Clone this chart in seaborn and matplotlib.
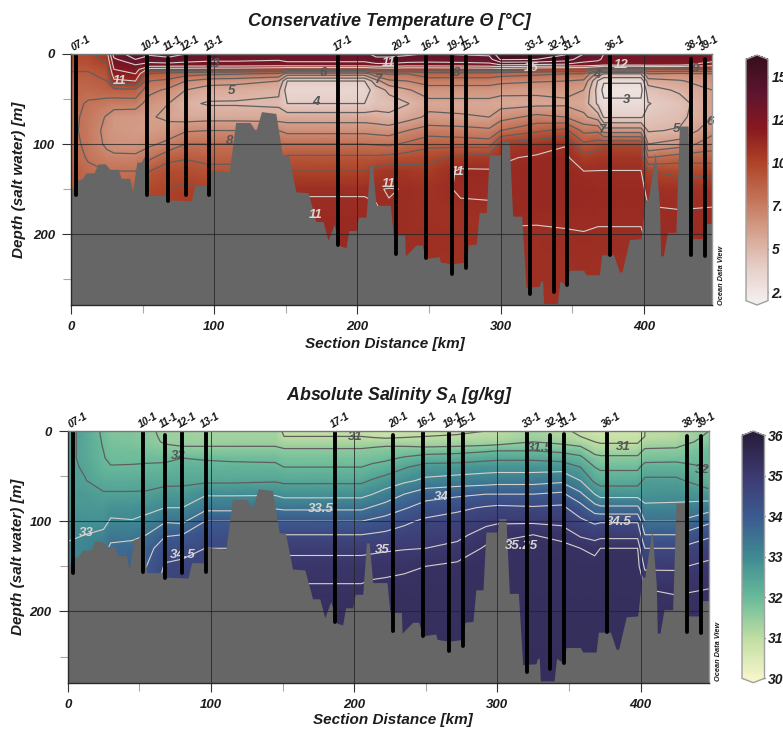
import numpy as np
import pandas as pd
import matplotlib
matplotlib.use("Agg")
import matplotlib.pyplot as plt
import seaborn as sns

# station names, section distance (km), top and bottom of each cast (m)
station_names = ['07-1', '10-1', '11-1', '12-1', '13-1', '17-1', '20-1', '16-1',
                 '19-1', '15-1', '33-1', '32-1', '31-1', '36-1', '38-1', '39-1']
station_km = [3.7, 52.8, 67.7, 80, 96.3, 186.7, 227.2, 247.9,
              266, 275.8, 320.7, 337, 346.3, 376.3, 432.7, 442.5]
station_top = [0, 0, 4, 0, 0, 0, 4, 0, 2, 2, 0, 4, 3, 0, 6, 6]
station_bottom = [157, 156, 163, 157, 156, 212, 222, 227,
                  244, 238, 267, 264, 257, 223, 223, 224]

# sea floor
floor_km = [0, 4.4, 7.4, 10.5, 16, 19, 24, 27, 33, 35, 41, 43, 46, 49, 51, 53, 55, 65.6, 69, 84,
            86.5, 96, 97.4, 110.5, 115, 125, 129, 133, 143, 147.7, 152, 157, 165.6, 171, 176, 179.5,
            183.7, 188, 192, 194, 199, 200.7, 206, 208.6, 210.5, 213, 223, 225, 233, 233.5, 241, 245,
            248, 257, 258, 266, 276, 277.4, 283, 285, 290, 292, 300, 301, 306, 308.4, 314.7, 317.7,
            327, 328, 329.3, 330, 339.6, 341.4, 346, 348, 358, 359.6, 369, 370.5, 379, 383, 384.7,
            390, 398, 401, 403, 408, 411, 411.7, 413.6, 416.4, 422.4, 424.8, 431, 431.7, 441, 443.4, 447.6]
floor_depth = [151, 140, 139, 132, 132, 122, 122, 128, 128, 138, 138, 153, 120, 120, 114, 114, 157, 157, 162, 163,
               146, 146, 129, 131, 76, 76, 86, 64, 66, 113, 113, 153, 154, 186, 186, 207,
               189, 213, 215, 196, 196, 181, 181, 124, 124, 168, 168, 201, 201, 224, 212, 212,
               227, 225, 231, 233, 231, 212, 211, 176, 176, 112, 112, 97, 97, 180, 180, 259,
               258, 252, 252, 277, 277, 252, 257, 240, 240, 245, 245, 223, 223, 242, 242,
               206, 205, 162, 162, 110, 170, 224, 224, 198, 198, 80, 80, 205, 205, 188, 188]

# field sampling
grid_km = [0, 12, 25, 30, 45, 55, 68, 80, 96, 115, 145, 151, 205, 213, 222, 235, 250, 272,
           292, 300, 325, 345, 358, 368, 372, 398, 403, 425, 447.6]
grid_depth = [0, 6, 12, 17, 22, 30, 40, 55, 70, 85, 100, 115, 130, 150, 175, 200, 280]

# conservative temperature, one row per grid_km
theta = [
    [9.5, 9.4, 9.2, 9.1, 8.9, 8.6, 8.4, 8.3, 8.3, 8.3, 8.4, 8.5, 8.8, 9.0, 9.3, 9.5, 9.5],
    [9.7, 9.6, 9.4, 9.1, 8.9, 8.6, 8.3, 7.9, 7.7, 7.6, 7.7, 7.9, 8.2, 8.6, 9.0, 9.4, 9.5],
    [10.6, 10.3, 9.9, 9.6, 9.3, 9.0, 8.6, 7.6, 6.9, 6.7, 6.8, 7.3, 8.0, 8.6, 9.0, 9.4, 9.5],
    [13.5, 12.8, 12.4, 12.0, 11.6, 10.8, 8.7, 7.5, 6.4, 6.4, 6.6, 7.2, 8.0, 8.6, 9.0, 9.4, 9.5],
    [14.5, 14.0, 13.0, 12.5, 12.0, 11.0, 8.8, 7.5, 6.3, 6.2, 6.5, 7.2, 8.0, 8.8, 9.2, 9.5, 9.6],
    [14.2, 13.4, 12.7, 10.6, 8.9, 8.0, 7.3, 6.5, 6.1, 6.2, 6.8, 7.8, 9.0, 9.8, 10.0, 10.2, 10.2],
    [14.6, 13.6, 12.7, 10.5, 8.6, 7.8, 6.8, 6.0, 5.8, 6.4, 7.3, 8.7, 9.5, 10.0, 10.3, 10.4, 10.4],
    [14.0, 13.4, 12.6, 10.5, 8.4, 7.0, 6.0, 5.2, 5.5, 6.9, 8.0, 8.9, 9.6, 10.2, 10.4, 10.5, 10.5],
    [13.5, 13.2, 12.6, 10.4, 8.2, 6.5, 5.5, 4.9, 5.6, 7.0, 8.0, 8.7, 9.3, 10.0, 10.4, 10.5, 10.5],
    [13.4, 13.2, 12.6, 10.4, 8.1, 6.4, 5.4, 4.9, 5.6, 7.0, 8.0, 8.7, 9.3, 10.0, 10.4, 10.5, 10.5],
    [13.4, 13.1, 12.5, 10.2, 7.8, 6.0, 5.2, 4.8, 5.5, 7.0, 8.0, 9.0, 9.8, 10.5, 10.9, 10.95, 10.95],
    [13.6, 13.3, 12.6, 10.0, 6.5, 4.0, 3.5, 4.0, 5.5, 6.7, 8.0, 9.2, 10.0, 10.95, 11.1, 11.15, 11.2],
    [13.6, 13.3, 12.6, 10.0, 6.5, 4.0, 3.5, 4.0, 5.5, 6.7, 8.0, 9.2, 10.0, 10.95, 11.1, 11.15, 11.2],
    [14.5, 13.6, 12.8, 10.3, 7.8, 5.6, 4.5, 4.5, 5.4, 6.6, 7.9, 9.2, 10.4, 10.97, 11.02, 11.02, 11.02],
    [14.5, 13.6, 12.8, 10.4, 8.1, 6.8, 5.2, 4.6, 5.2, 6.5, 7.8, 9.3, 10.6, 11.02, 10.97, 10.97, 10.97],
    [14.2, 13.5, 12.6, 10.2, 8.0, 7.0, 5.9, 4.95, 5.6, 7.0, 8.2, 9.5, 10.5, 10.98, 10.95, 10.95, 10.95],
    [13.9, 13.4, 12.6, 10.2, 8.6, 7.5, 6.5, 5.7, 6.2, 7.5, 8.7, 9.7, 10.3, 10.7, 10.85, 10.9, 10.9],
    [14.1, 13.5, 12.6, 10.3, 8.6, 7.5, 6.5, 5.7, 6.1, 7.4, 8.6, 10.3, 11.15, 11.1, 10.85, 10.85, 10.85],
    [14.2, 13.6, 12.7, 10.4, 8.6, 7.5, 6.5, 5.7, 6.0, 7.2, 8.5, 10.4, 11.1, 11.1, 10.9, 10.9, 10.9],
    [15.8, 15.1, 13.0, 10.5, 8.4, 7.3, 6.3, 5.6, 6.6, 8.0, 10.3, 10.9, 11.1, 11.15, 11.1, 10.95, 10.9],
    [15.6, 15.0, 12.9, 10.2, 8.2, 7.1, 6.2, 5.7, 7.3, 8.8, 10.6, 11.1, 11.2, 11.2, 11.15, 10.9, 10.85],
    [15.1, 14.5, 12.8, 10.0, 8.0, 7.0, 6.3, 5.8, 7.0, 9.3, 10.95, 11.2, 11.2, 11.2, 11.15, 10.95, 10.85],
    [14.0, 13.4, 12.6, 10.0, 8.0, 6.8, 6.0, 5.6, 6.2, 7.7, 9.2, 10.3, 11.0, 11.2, 11.15, 10.98, 10.85],
    [13.5, 13.2, 12.4, 9.0, 5.5, 3.9, 3.6, 3.8, 5.5, 7.8, 9.5, 10.5, 11.02, 11.15, 11.1, 10.95, 10.85],
    [13.0, 12.8, 12.2, 8.5, 5.0, 3.1, 2.7, 3.2, 3.9, 6.5, 9.8, 10.6, 11.02, 11.15, 11.1, 10.95, 10.85],
    [13.0, 12.8, 12.2, 8.5, 5.0, 3.1, 2.7, 3.2, 3.9, 6.5, 9.8, 10.6, 11.02, 11.15, 11.1, 10.95, 10.85],
    [13.0, 12.8, 12.3, 9.0, 7.0, 5.5, 4.5, 3.95, 4.3, 4.9, 6.0, 8.0, 10.0, 10.85, 11.05, 11.1, 11.1],
    [13.0, 12.7, 12.2, 9.0, 6.8, 5.9, 5.2, 4.5, 4.7, 5.1, 6.5, 8.5, 9.7, 10.7, 11.03, 11.1, 11.1],
    [12.8, 12.4, 11.5, 9.0, 7.0, 6.5, 6.0, 6.0, 6.0, 6.7, 7.5, 8.5, 9.7, 10.8, 11.05, 11.1, 11.1],
]

# absolute salinity, one row per grid_km
salinity = [
    [32.6, 32.6, 32.6, 32.6, 32.6, 32.6, 32.6, 32.65, 32.7, 32.75, 32.85, 32.95, 33.05, 33.1, 33.1, 33.1, 33.1],
    [32.4, 32.4, 32.4, 32.4, 32.4, 32.4, 32.45, 32.52, 32.65, 32.75, 32.85, 33.0, 33.1, 33.15, 33.2, 33.2, 33.2],
    [31.9, 31.92, 31.95, 31.97, 32.0, 32.02, 32.1, 32.3, 32.55, 32.7, 32.85, 33.1, 33.3, 33.4, 33.5, 33.5, 33.5],
    [31.7, 31.75, 31.8, 31.85, 31.88, 31.93, 32.02, 32.3, 32.55, 32.85, 33.05, 33.35, 33.6, 33.7, 33.75, 33.8, 33.8],
    [31.7, 31.72, 31.75, 31.8, 31.88, 31.93, 32.03, 32.3, 32.55, 32.85, 33.02, 33.35, 33.7, 33.9, 34.0, 34.0, 34.0],
    [31.6, 31.62, 31.65, 31.7, 31.8, 31.93, 32.05, 32.35, 32.55, 32.9, 33.1, 33.5, 33.8, 34.0, 34.2, 34.2, 34.2],
    [31.4, 31.42, 31.45, 31.55, 31.7, 31.9, 32.1, 32.35, 32.7, 33.0, 33.45, 33.95, 34.3, 34.55, 34.7, 34.7, 34.7],
    [31.35, 31.38, 31.42, 31.5, 31.65, 32.0, 32.2, 32.4, 32.65, 33.0, 33.4, 34.0, 34.35, 34.6, 34.8, 34.8, 34.8],
    [31.3, 31.35, 31.4, 31.5, 31.65, 31.95, 32.15, 32.4, 32.95, 33.35, 34.0, 34.3, 34.5, 34.7, 34.9, 34.9, 34.9],
    [31.3, 31.35, 31.4, 31.5, 31.65, 31.9, 32.15, 32.4, 32.95, 33.35, 34.0, 34.3, 34.5, 34.7, 34.9, 34.9, 34.9],
    [31.3, 31.35, 31.4, 31.5, 31.65, 31.9, 32.1, 32.45, 32.95, 33.45, 34.0, 34.45, 34.85, 35.1, 35.25, 35.3, 35.3],
    [30.9, 31.0, 31.2, 31.4, 31.6, 31.8, 32.0, 32.4, 32.85, 33.4, 34.0, 34.5, 34.9, 35.15, 35.28, 35.35, 35.4],
    [30.9, 31.0, 31.2, 31.4, 31.6, 31.8, 32.0, 32.4, 32.85, 33.4, 34.0, 34.5, 34.9, 35.15, 35.28, 35.35, 35.4],
    [30.75, 30.95, 31.2, 31.45, 31.65, 31.85, 32.1, 32.55, 33.0, 33.55, 34.1, 34.55, 34.92, 35.18, 35.3, 35.35, 35.4],
    [30.7, 30.9, 31.2, 31.5, 31.7, 31.9, 32.2, 32.7, 33.2, 33.7, 34.2, 34.6, 34.95, 35.2, 35.3, 35.35, 35.4],
    [30.75, 30.95, 31.2, 31.5, 31.75, 32.05, 32.45, 32.9, 33.5, 33.95, 34.4, 34.7, 34.98, 35.22, 35.31, 35.35, 35.4],
    [30.8, 31.0, 31.2, 31.45, 31.8, 32.2, 32.7, 33.1, 33.8, 34.2, 34.6, 34.8, 35.0, 35.25, 35.32, 35.35, 35.4],
    [30.9, 31.05, 31.25, 31.5, 31.85, 32.25, 32.72, 33.2, 33.9, 34.4, 34.7, 34.9, 35.1, 35.3, 35.33, 35.35, 35.4],
    [31.0, 31.1, 31.3, 31.55, 31.95, 32.35, 32.8, 33.25, 34.0, 34.55, 34.9, 35.15, 35.28, 35.33, 35.35, 35.37, 35.4],
    [31.0, 31.1, 31.3, 31.6, 32.0, 32.4, 32.8, 33.3, 34.0, 34.6, 34.95, 35.2, 35.3, 35.33, 35.35, 35.37, 35.4],
    [31.3, 31.4, 31.5, 31.7, 32.0, 32.4, 32.8, 33.3, 34.0, 34.55, 34.95, 35.25, 35.3, 35.33, 35.35, 35.37, 35.4],
    [31.1, 31.2, 31.4, 31.6, 31.9, 32.3, 32.8, 33.4, 34.1, 34.6, 34.9, 35.2, 35.3, 35.33, 35.35, 35.37, 35.4],
    [30.9, 31.0, 31.2, 31.5, 31.8, 32.1, 32.5, 33.0, 33.6, 34.2, 34.6, 34.95, 35.25, 35.33, 35.35, 35.37, 35.4],
    [30.7, 30.9, 31.0, 31.1, 31.3, 31.7, 32.0, 32.4, 33.0, 33.7, 34.4, 34.85, 35.2, 35.32, 35.35, 35.37, 35.4],
    [30.7, 30.8, 30.95, 31.1, 31.3, 31.6, 31.9, 32.3, 32.8, 33.6, 34.45, 34.9, 35.25, 35.33, 35.35, 35.37, 35.4],
    [30.7, 30.8, 30.95, 31.1, 31.3, 31.6, 31.9, 32.3, 32.8, 33.6, 34.45, 34.9, 35.25, 35.33, 35.35, 35.37, 35.4],
    [31.0, 31.0, 31.2, 31.4, 31.6, 31.8, 32.2, 32.6, 32.8, 33.1, 33.5, 34.0, 34.5, 34.95, 35.25, 35.33, 35.4],
    [31.05, 31.1, 31.25, 31.45, 31.6, 31.85, 32.2, 32.6, 32.85, 33.1, 33.5, 34.0, 34.5, 34.95, 35.22, 35.33, 35.4],
    [31.5, 31.6, 31.7, 31.85, 31.95, 32.0, 32.0, 32.2, 32.7, 33.3, 33.9, 34.4, 34.8, 35.1, 35.25, 35.3, 35.35],
]

# contour labels: text, km, depth, light or dark
theta_labels = [('11', 34, 30, 1), ('13', 99, 11, 0), ('5', 112, 41, 0), ('4', 171, 53, 0), ('6', 176, 21, 0),
                ('8', 111, 97, 0), ('7', 214, 29, 0), ('11', 222, 10, 1), ('11', 171, 179, 1), ('11', 222, 144, 1),
                ('8', 269, 21, 0), ('11', 270, 131, 1), ('15', 321, 16, 1), ('12', 384.5, 12, 1), ('4', 367, 23, 0),
                ('3', 388, 51, 0), ('7', 370.5, 84, 0), ('5', 423, 83, 0), ('6', 446, 76, 0), ('9', 436, 17, 0)]
salinity_labels = [('33', 12.8, 113, 1), ('32', 77.5, 28, 0), ('31', 200.7, 7, 0), ('33.5', 177, 86, 1),
                   ('35', 220, 132, 1), ('34.5', 80, 138, 1), ('31.5', 329.6, 19, 0), ('31', 387.8, 18, 0),
                   ('32', 443, 43, 0), ('34', 260.6, 73, 1), ('34.5', 384.7, 101, 1), ('35.25', 317, 128, 1)]

theta_dark = [3, 4, 5, 6, 7, 8, 9, 10]
theta_light = [11, 12, 13, 14, 15]
salinity_dark = [31, 31.5, 32, 32.5]
salinity_light = [33, 33.5, 34, 34.5, 35, 35.25]

sns.set_theme(style="ticks")
plt.rcParams['font.family'] = ['Liberation Sans', 'DejaVu Sans']
plt.rcParams['font.weight'] = 'bold'
plt.rcParams['font.style'] = 'italic'
plt.rcParams['mathtext.fontset'] = 'custom'
plt.rcParams['mathtext.rm'] = 'Liberation Sans:italic:bold'
plt.rcParams['mathtext.it'] = 'Liberation Sans:italic:bold'

W, H = 783, 729
INK = '#1c1c1c'

theta_cmap = sns.blend_palette(['#f3eeee', '#e5cdc6', '#d5a08c', '#c27155', '#ae4327',
                                '#88181f', '#5e1530', '#3a0f1c'], as_cmap=True)
salinity_cmap = sns.blend_palette(['#f6f5c9', '#bedda2', '#68ba9a', '#3f8a92', '#3b5a90',
                                   '#3d3a72', '#291e3c'], as_cmap=True)

casts = pd.DataFrame({
    'station': station_names * 2,
    'km': station_km * 2,
    'depth': station_top + station_bottom,
})


def px_axes(fig, left, top, right, bottom):
    return fig.add_axes([left / W, 1 - bottom / H, (right - left) / W, (bottom - top) / H])


def draw_section(fig, box, field, vmin, vmax, cmap, dark, light, labels):
    ax = px_axes(fig, *box)
    X, Y = np.meshgrid(grid_km, grid_depth, indexing='ij')
    Z = np.array(field)
    mesh = ax.pcolormesh(X, Y, Z, cmap=cmap, vmin=vmin, vmax=vmax, shading='gouraud', zorder=1)
    ax.contour(X, Y, Z, levels=dark, colors='#5f5f5f', linewidths=0.9, zorder=2)
    ax.contour(X, Y, Z, levels=light, colors='#d6d0cc', linewidths=0.8, zorder=2)
    ax.fill_between(floor_km, floor_depth, 279, color='#666666', lw=0, zorder=3)

    for v in [100, 200, 300, 400]:
        ax.axvline(v, color='#222222', lw=0.7, alpha=0.8, zorder=4)
    for v in [100, 200]:
        ax.axhline(v, color='#222222', lw=0.8, alpha=0.75, zorder=4)

    for txt, km, d, is_light in labels:
        ax.text(km, d, txt, color='#d9d4d0' if is_light else '#565656', fontsize=9.5,
                ha='center', va='center', zorder=4)

    sns.lineplot(data=casts, x='km', y='depth', units='station', estimator=None, sort=False,
                 color='black', lw=2.8, solid_capstyle='round', ax=ax, zorder=5, legend=False)

    for name, km in zip(station_names, station_km):
        ax.annotate(name, (km, 0), xytext=(-1, 1), textcoords='offset points', rotation=30,
                    rotation_mode='anchor', ha='left', va='bottom', fontsize=7.2,
                    color='#111111', annotation_clip=False)

    ax.set_xlim(0, 447.6)
    ax.set_ylim(279, 0)
    ax.set_xlabel('')
    ax.set_ylabel('')
    ax.set_xticks([0, 100, 200, 300, 400])
    ax.set_xticks([50, 150, 250, 350], minor=True)
    ax.set_yticks([0, 100, 200])
    ax.set_yticks([50, 150, 250], minor=True)
    ax.tick_params(which='major', length=6.5, width=0.8, color='#333333', labelsize=9.5, labelcolor=INK, pad=5)
    ax.tick_params(which='minor', length=6, width=0.8, color='#a8a8a8')
    for side in ax.spines:
        ax.spines[side].set_linewidth(1.0)
        ax.spines[side].set_color('#2a2a2a')
        ax.spines[side].set_visible(True)
        ax.spines[side].set_zorder(6)
    ax.spines['top'].set_color('#777777')
    ax.spines['right'].set_color('#999999')
    return ax, mesh


def draw_bar(fig, mesh, box, ticks, ticklabels):
    cax = px_axes(fig, *box)
    cb = fig.colorbar(mesh, cax=cax, extend='both', extendfrac=0.018, ticks=ticks)
    cb.ax.set_yticklabels(ticklabels)
    cb.ax.tick_params(which='major', direction='in', left=True, right=True, length=4.5, width=0.9,
                      color='#222222', labelsize=10, labelcolor=INK, pad=2.5)
    cb.ax.minorticks_off()
    cb.outline.set_edgecolor('#a0a0a0')
    cb.outline.set_linewidth(1.0)
    return cb


def px_text(fig, x, y, s, **kw):
    fig.text(x / W, 1 - y / H, s, ha='center', va='center', color=INK, **kw)


fig = plt.figure(figsize=(W / 100, H / 100), dpi=100)

ax1, mesh1 = draw_section(fig, (71, 54, 712, 305.3), theta, 2, 16, theta_cmap,
                          theta_dark, theta_light, theta_labels)
ax2, mesh2 = draw_section(fig, (67.7, 431, 708.7, 682.7), salinity, 30, 36, salinity_cmap,
                          salinity_dark, salinity_light, salinity_labels)

draw_bar(fig, mesh1, (746, 55, 768, 305), [2.5, 5, 7.5, 10, 12.5, 15], ['2.5', '5', '7.5', '10', '12.5', '15'])
draw_bar(fig, mesh2, (742, 431, 764.5, 682.7), [30, 31, 32, 33, 34, 35, 36], ['30', '31', '32', '33', '34', '35', '36'])

px_text(fig, 389, 22, 'Conservative Temperature Θ [°C]', fontsize=13)
px_text(fig, 399, 396, 'Absolute Salinity S$_{A}$ [g/kg]', fontsize=12.8)
px_text(fig, 385, 344, 'Section Distance [km]', fontsize=11)
px_text(fig, 393, 720, 'Section Distance [km]', fontsize=11)
px_text(fig, 19, 180, 'Depth (salt water) [m]', fontsize=11, rotation=90)
px_text(fig, 18, 557, 'Depth (salt water) [m]', fontsize=11, rotation=90)
px_text(fig, 721.5, 275, 'Ocean Data View', fontsize=5.3, rotation=90)
px_text(fig, 718, 651, 'Ocean Data View', fontsize=5.3, rotation=90)

fig.savefig('out.png', dpi=100)
